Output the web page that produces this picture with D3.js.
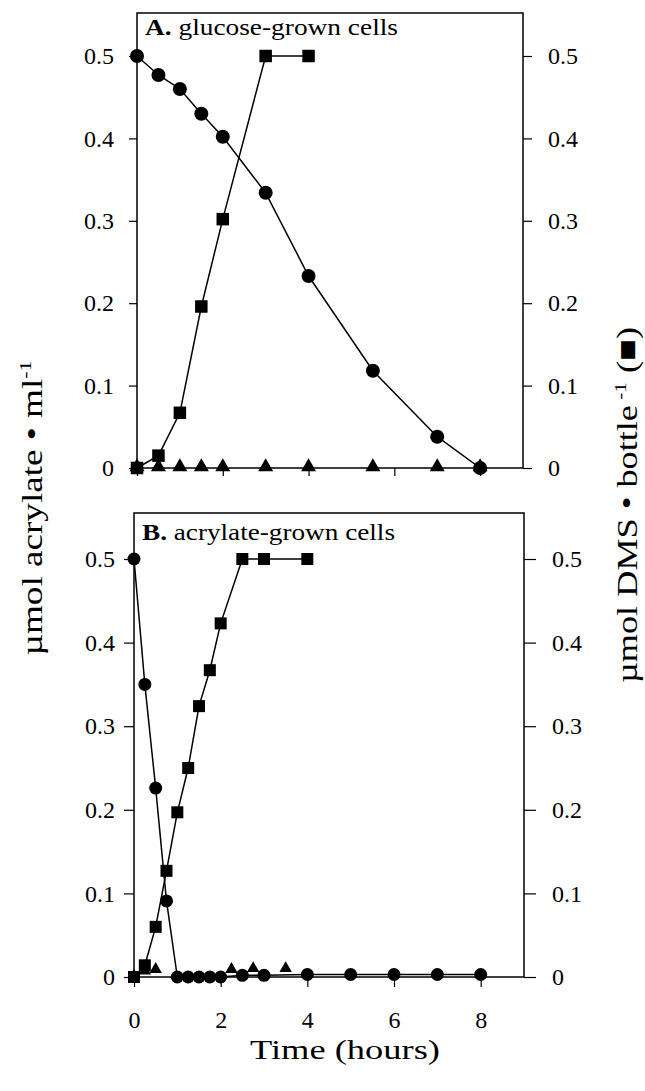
<!DOCTYPE html>
<html>
<head>
<meta charset="utf-8">
<script src="https://cdn.jsdelivr.net/npm/d3@7"></script>
<style>
body { margin: 0; background: #fff; }
text { font-family: "Liberation Serif", "Times New Roman", serif; fill: #000; }
</style>
</head>
<body>
<svg width="645" height="1091"></svg>
<script>
// panel A - glucose-grown cells
const timeA = [0, 0.5, 1, 1.5, 2, 3, 4, 5.5, 7, 8];
const acrylateA = [0.5, 0.477, 0.46, 0.43, 0.402, 0.334, 0.233, 0.118, 0.038, 0];
const dmsTimeA = [0, 0.5, 1, 1.5, 2, 3, 4];
const dmsA = [0, 0.015, 0.067, 0.196, 0.302, 0.5, 0.5];
const triTimeA = [0, 0.5, 1, 1.5, 2, 3, 4, 5.5, 7, 8];
const triA = [0, 0, 0, 0, 0, 0, 0, 0, 0, 0];

// panel B - acrylate-grown cells
const timeB = [0, 0.25, 0.5, 0.75, 1, 1.25, 1.5, 1.75, 2, 2.5, 3, 4, 5, 6, 7, 8];
const acrylateB = [0.5, 0.35, 0.226, 0.091, 0, 0, 0, 0, 0, 0.002, 0.002, 0.003, 0.003, 0.003, 0.003, 0.003];
const dmsTimeB = [0, 0.25, 0.5, 0.75, 1, 1.25, 1.5, 1.75, 2, 2.5, 3, 4];
const dmsB = [0, 0.014, 0.06, 0.127, 0.197, 0.25, 0.324, 0.367, 0.423, 0.5, 0.5, 0.5];
const triTimeB = [0, 0.25, 0.5, 2.25, 2.75, 3.5];
const triB = [0, 0.006, 0.008, 0.008, 0.009, 0.009];

const yTicks = [0, 0.1, 0.2, 0.3, 0.4, 0.5];
const xTicks = [0, 2, 4, 6, 8];
const xLabels = ['0', '2', '4', '6', '8'];
const yLabels = ['0', '0.1', '0.2', '0.3', '0.4', '0.5'];

const svg = d3.select('svg');

const panels = [
  { bold: 'A.', label: ' glucose-grown cells', labelX: 145, labelY: 35, labelLen: 253,
    left: 137, right: 523, zeroY: 468, halfY: 56, top: 13, tick: 8, leftPad: 15, rightPad: 16, rightTick: 9,
    r: 7, sq: 12.5, tri: 15, xAxis: false,
    circ: [timeA, acrylateA], squares: [dmsTimeA, dmsA], tris: [triTimeA, triA] },
  { bold: 'B.', label: ' acrylate-grown cells', labelX: 142, labelY: 540, labelLen: 253,
    left: 134, right: 524, zeroY: 977, halfY: 559, top: 513, tick: 10, leftPad: 9, rightPad: 16, rightTick: 12,
    r: 6.5, sq: 12, tri: 12.5, xAxis: true,
    circ: [timeB, acrylateB], squares: [dmsTimeB, dmsB], tris: [triTimeB, triB] }
];

panels.forEach(p => {
  const x = d3.scaleLinear().domain([0, 9]).range([p.left, p.right]);
  const y = d3.scaleLinear().domain([0, 0.5]).range([p.zeroY, p.halfY]);
  const g = svg.append('g');

  // frame
  g.append('rect')
    .attr('x', p.left).attr('y', p.top)
    .attr('width', p.right - p.left).attr('height', p.zeroY - p.top)
    .attr('fill', 'none').attr('stroke', '#000').attr('stroke-width', 1.5);

  const fmt = (d, i) => yLabels[i];

  const la = g.append('g').attr('transform', `translate(${p.left},0)`)
    .call(d3.axisLeft(y).tickValues(yTicks).tickSize(p.tick).tickPadding(p.leftPad).tickFormat(fmt));
  const ra = g.append('g').attr('transform', `translate(${p.right},0)`)
    .call(d3.axisRight(y).tickValues(yTicks).tickSize(p.rightTick).tickPadding(p.rightPad).tickFormat(fmt));
  const ba = g.append('g').attr('transform', `translate(0,${p.zeroY})`)
    .call(d3.axisBottom(x).tickValues(xTicks).tickSize(p.tick).tickPadding(24)
      .tickFormat((d, i) => p.xAxis ? xLabels[i] : ''));

  [la, ra, ba].forEach(a => {
    a.select('.domain').remove();
    a.selectAll('line').attr('stroke', '#000').attr('stroke-width', 1.2);
    a.selectAll('text').attr('font-family', '"Liberation Serif", serif').attr('font-size', 24).attr('fill', '#000');
  });

  // panel label
  const t = g.append('text').attr('x', p.labelX).attr('y', p.labelY)
    .attr('font-size', 23).attr('textLength', p.labelLen).attr('lengthAdjust', 'spacingAndGlyphs');
  t.append('tspan').attr('font-weight', 'bold').text(p.bold);
  t.append('tspan').text(p.label);

  const line = d3.line().x(d => x(d[0])).y(d => y(d[1]));
  const pts = arr => d3.zip(arr[0], arr[1]);

  // triangles (no line)
  g.selectAll('.tri').data(pts(p.tris)).join('path')
    .attr('transform', d => `translate(${x(d[0])},${y(d[1]) - 1})`)
    .attr('d', d3.symbol(d3.symbolTriangle, p.tri * p.tri * 0.433));

  g.append('path').datum(pts(p.squares)).attr('d', line)
    .attr('fill', 'none').attr('stroke', '#000').attr('stroke-width', 1.5);
  g.append('path').datum(pts(p.circ)).attr('d', line)
    .attr('fill', 'none').attr('stroke', '#000').attr('stroke-width', 1.5);

  g.selectAll('.sq').data(pts(p.squares)).join('rect')
    .attr('x', d => x(d[0]) - p.sq / 2).attr('y', d => y(d[1]) - p.sq / 2)
    .attr('width', p.sq).attr('height', p.sq).attr('fill', '#000');

  g.selectAll('.ci').data(pts(p.circ)).join('circle')
    .attr('cx', d => x(d[0])).attr('cy', d => y(d[1])).attr('r', p.r).attr('fill', '#000');
});

// axis titles
svg.append('text').attr('x', 345).attr('y', 1059).attr('text-anchor', 'middle')
  .attr('font-size', 27).attr('textLength', 190).attr('lengthAdjust', 'spacingAndGlyphs')
  .text('Time (hours)');

const lt = svg.append('text').attr('transform', 'translate(42,508) rotate(-90)')
  .attr('text-anchor', 'middle').attr('font-size', 29)
  .attr('textLength', 295).attr('lengthAdjust', 'spacingAndGlyphs');
lt.append('tspan').text('µmol acrylate • ml');
lt.append('tspan').attr('dy', -11).attr('font-size', 17).text('-1');

const rt = svg.append('text').attr('transform', 'translate(637,505) rotate(-90)')
  .attr('text-anchor', 'middle').attr('font-size', 29)
  .attr('textLength', 356).attr('lengthAdjust', 'spacingAndGlyphs');
rt.append('tspan').text('µmol DMS • bottle');
rt.append('tspan').attr('dy', -11).attr('font-size', 17).text(' -1');
rt.append('tspan').attr('dy', 11).text(' (■)');
</script>
</body>
</html>
